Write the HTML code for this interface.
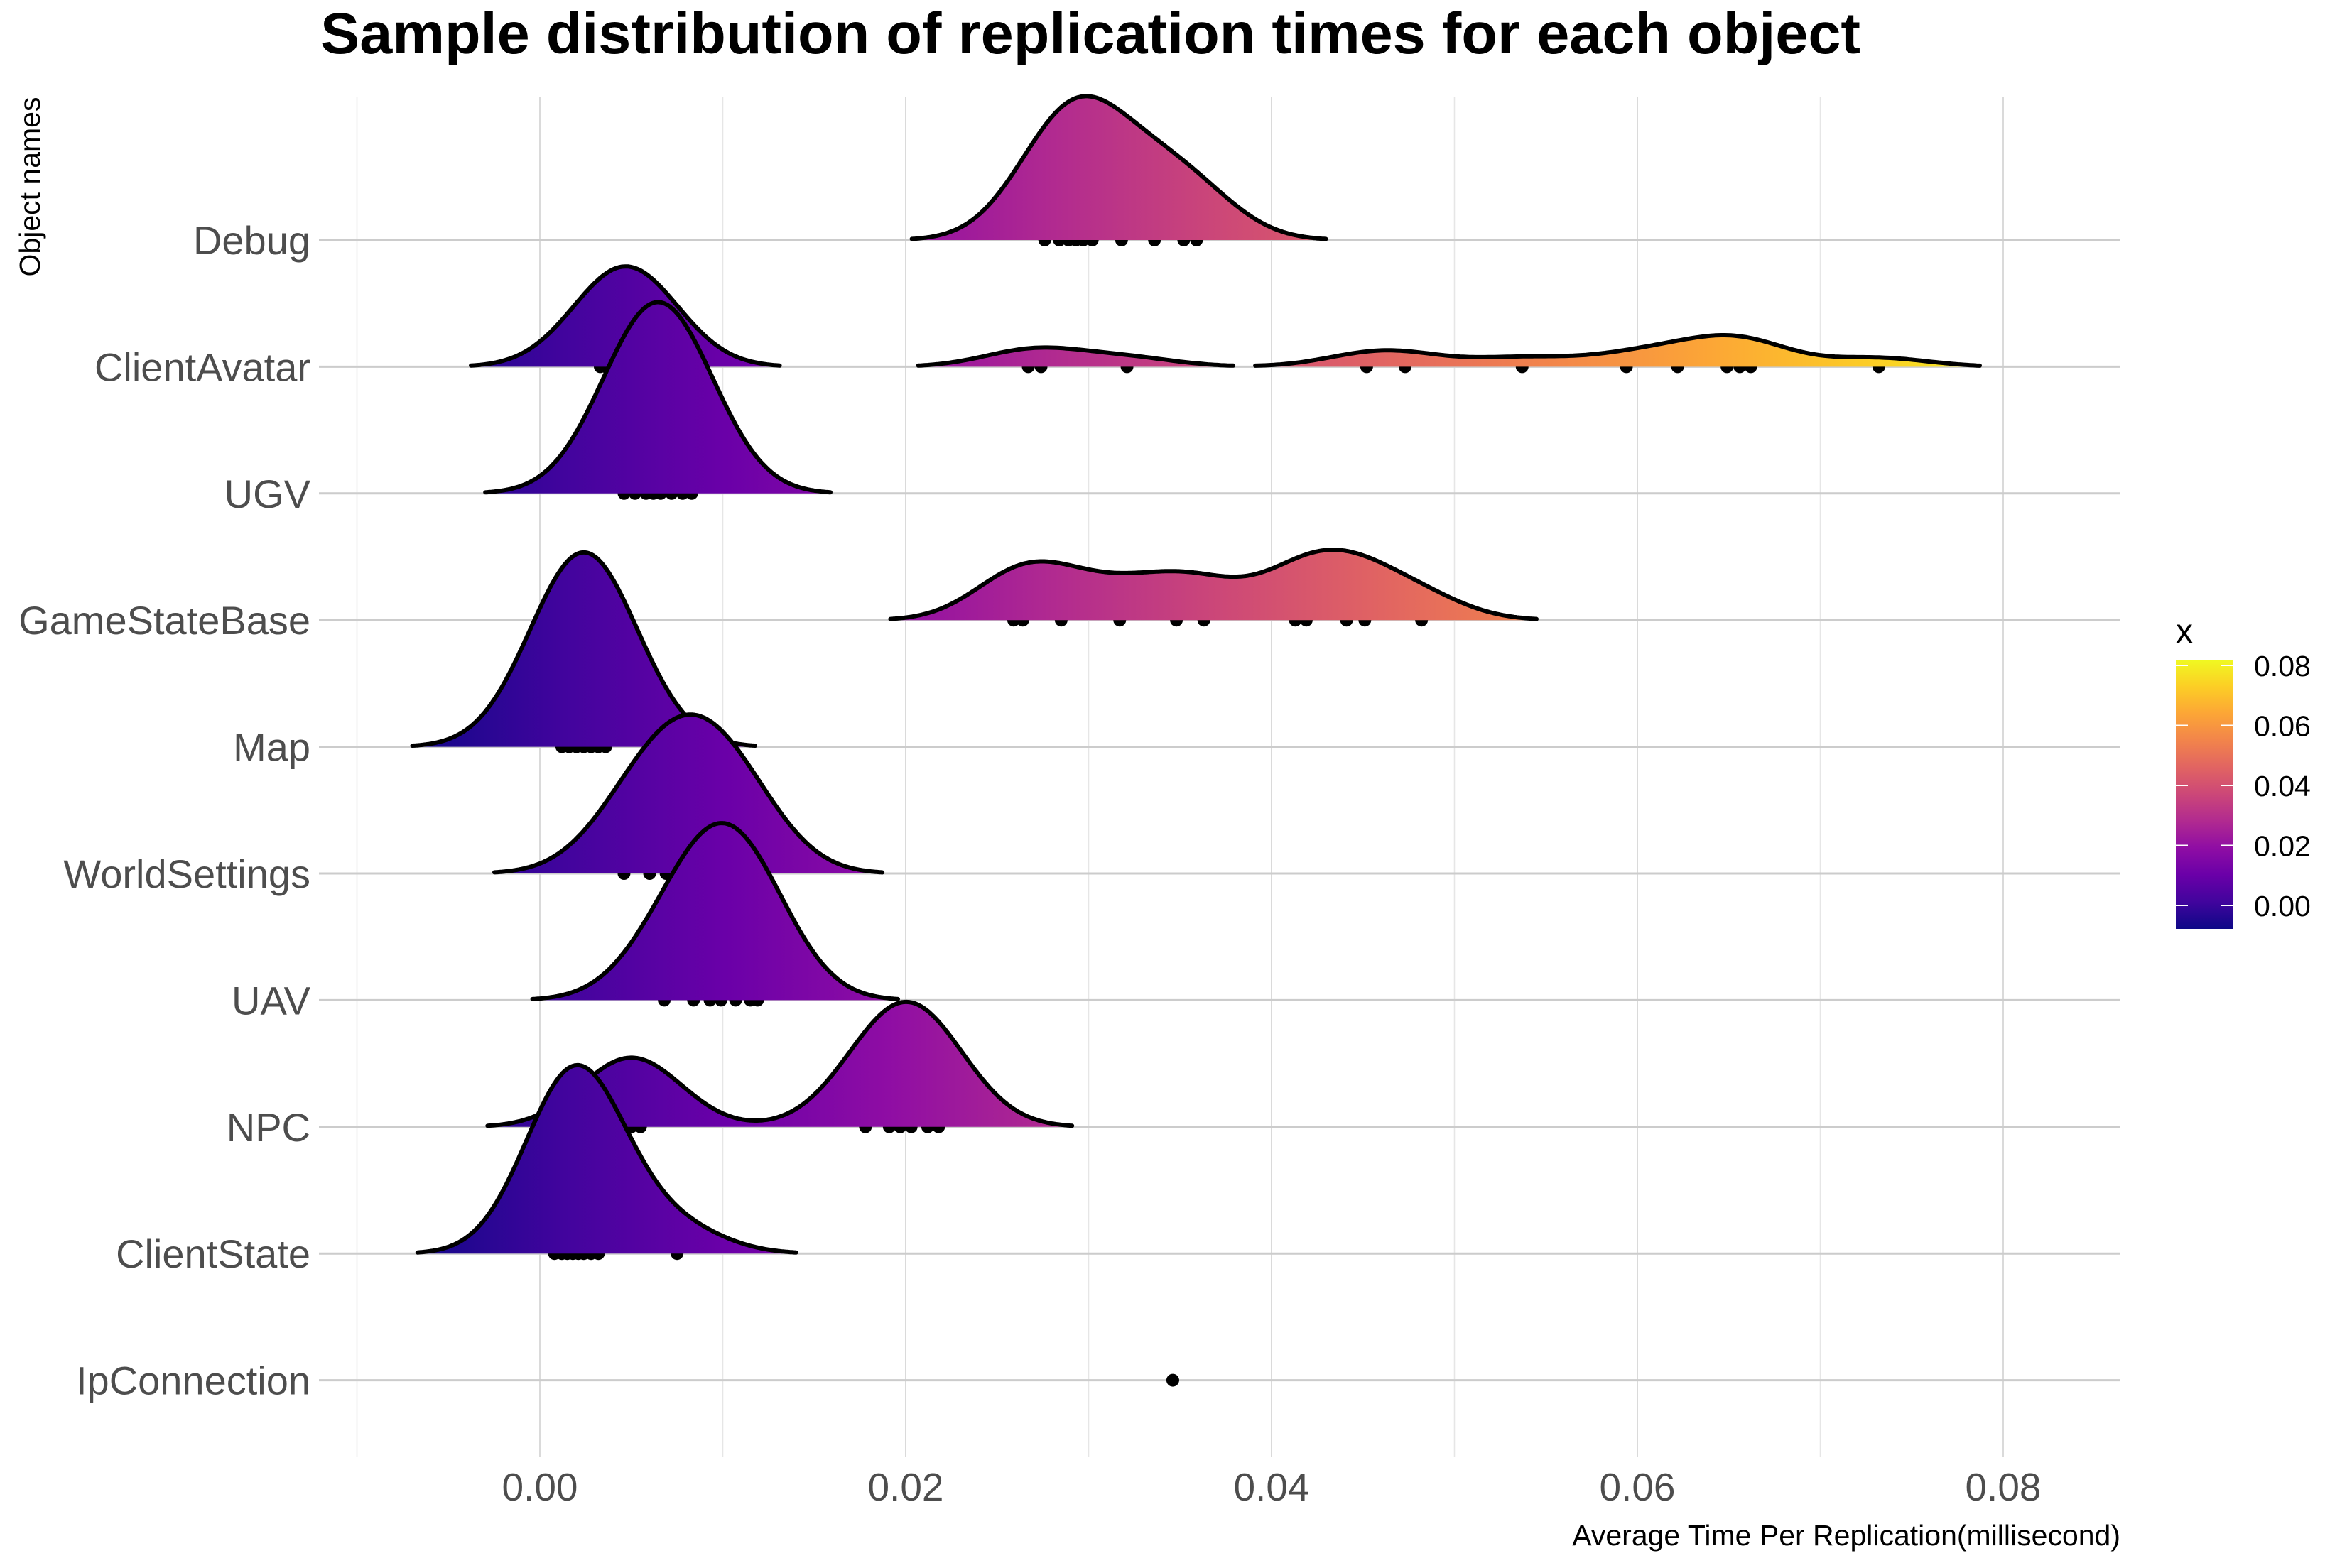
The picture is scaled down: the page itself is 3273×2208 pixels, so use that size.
<!DOCTYPE html>
<html><head><meta charset="utf-8"><style>
html,body{margin:0;padding:0;background:#fff;}
svg{display:block;font-family:"Liberation Sans",Arial,sans-serif;}
</style></head><body>
<svg id="chart" width="3273" height="2208" viewBox="0 0 3273 2208" xmlns="http://www.w3.org/2000/svg">
<defs>
<linearGradient id="plasmaX" gradientUnits="userSpaceOnUse" x1="559" y1="0" x2="2869" y2="0">
<stop offset="0" stop-color="#0d0887"/><stop offset="0.1" stop-color="#41049d"/><stop offset="0.2" stop-color="#6a00a8"/><stop offset="0.3" stop-color="#8f0da4"/><stop offset="0.4" stop-color="#b12a90"/><stop offset="0.5" stop-color="#cc4778"/><stop offset="0.6" stop-color="#e16462"/><stop offset="0.7" stop-color="#f2844b"/><stop offset="0.8" stop-color="#fca636"/><stop offset="0.9" stop-color="#fcce25"/><stop offset="1" stop-color="#f0f921"/>
</linearGradient>
<linearGradient id="plasmaY" x1="0" y1="1" x2="0" y2="0">
<stop offset="0" stop-color="#0d0887"/><stop offset="0.1" stop-color="#41049d"/><stop offset="0.2" stop-color="#6a00a8"/><stop offset="0.3" stop-color="#8f0da4"/><stop offset="0.4" stop-color="#b12a90"/><stop offset="0.5" stop-color="#cc4778"/><stop offset="0.6" stop-color="#e16462"/><stop offset="0.7" stop-color="#f2844b"/><stop offset="0.8" stop-color="#fca636"/><stop offset="0.9" stop-color="#fcce25"/><stop offset="1" stop-color="#f0f921"/>
</linearGradient>
</defs>
<text x="451" y="75" font-size="82" font-weight="bold" fill="#000" textLength="2168" lengthAdjust="spacingAndGlyphs">Sample distribution of replication times for each object</text>
<text transform="translate(56,263) rotate(-90)" text-anchor="middle" font-size="41" fill="#000">Object names</text>
<text x="2985" y="2176" text-anchor="end" font-size="41" fill="#000">Average Time Per Replication(millisecond)</text>
<g id="grid"></g>
<g id="ylabels"></g>
<g id="xlabels"></g>
<g id="marks"></g>
<g>
<text x="3063" y="905" font-size="48" fill="#000">x</text>
<rect x="3063" y="929" width="81" height="379" fill="url(#plasmaY)"/>
<g id="legendticks"></g>
</g>
</svg>
<script>
const categories = ["Debug","ClientAvatar","UGV","GameStateBase","Map","WorldSettings","UAV","NPC","ClientState","IpConnection"];
const debugPts = [0.0276,0.0284,0.0289,0.0293,0.0297,0.0302,0.0318,0.0336,0.0352,0.0359];
const clientAvatarPts = [0.0033,0.0036,0.0039,0.0042,0.0044,0.0046,0.0048,0.0050,0.0052,0.0055,0.0058,0.0060,0.0267,0.0274,0.0321,0.0452,0.0473,0.0537,0.0594,0.0622,0.0649,0.0656,0.0662,0.0732];
const ugvPts = [0.0046,0.0052,0.0058,0.0062,0.0066,0.0072,0.0078,0.0083];
const gameStateBasePts = [0.0259,0.0264,0.0285,0.0317,0.0348,0.0363,0.0413,0.0419,0.0441,0.0451,0.0482];
const mapPts = [0.0012,0.0016,0.0020,0.0024,0.0028,0.0032,0.0036];
const worldSettingsPts = [0.0046,0.0060,0.0069,0.0078,0.0086,0.0095,0.0105,0.0115];
const uavPts = [0.0068,0.0084,0.0093,0.0099,0.0107,0.0115,0.0119];
const npcPts = [0.0045,0.0050,0.0055,0.0178,0.0191,0.0197,0.0203,0.0212,0.0218];
const clientStatePts = [0.0008,0.0012,0.0015,0.0018,0.0021,0.0024,0.0028,0.0032,0.0075];
const ipConnectionPts = [0.0346];
const bandwidths = [0.0027,0.0027,0.0027,0.0026,0.0028,0.0027,0.0027,0.0027,0.0026,0];
const xTicks = [0.00,0.02,0.04,0.06,0.08];
const xTickLabels = ["0.00","0.02","0.04","0.06","0.08"];
const xMinor = [-0.01,0.01,0.03,0.05,0.07];
const legendTicks = [0.00,0.02,0.04,0.06,0.08];
const legendTickLabels = ["0.00","0.02","0.04","0.06","0.08"];

const allPts = [debugPts,clientAvatarPts,ugvPts,gameStateBasePts,mapPts,worldSettingsPts,uavPts,npcPts,clientStatePts,ipConnectionPts];
const NS = "http://www.w3.org/2000/svg";
const PL = 449, PR = 2985, PT = 136, PB = 2052;
const xs = v => 760 + v * 25750;
const ys = i => 338 + i * 178.4;
const legY = v => 1275 - v / 0.02 * 84.5;
const K = 2.0;
function mk(tag, attrs, parent){ const e = document.createElementNS(NS, tag); for (const k in attrs) e.setAttribute(k, attrs[k]); parent.appendChild(e); return e; }

const grid = document.getElementById('grid');
xMinor.forEach(v => {
  const l = mk('line', {x1:xs(v), x2:xs(v), y1:PT, y2:PB, stroke:'#e6e6e6', 'stroke-width':1.5}, grid);
  
  
});
xTicks.forEach(v => {
  const l = mk('line', {x1:xs(v), x2:xs(v), y1:PT, y2:PB, stroke:'#dadada', 'stroke-width':2}, grid);
  
  
});
categories.forEach((c, i) => {
  const l = mk('line', {x1:PL, x2:PR, y1:ys(i), y2:ys(i), stroke:'#cccccc', 'stroke-width':3}, grid);
  
  
});
const yl = document.getElementById('ylabels');
categories.forEach((c, i) => {
  const t = mk('text', {x:437, y:ys(i)+20, 'text-anchor':'end', 'font-size':56, fill:'#4d4d4d'}, yl);
  t.textContent = c;
  
  
});
const xl = document.getElementById('xlabels');
xTicks.forEach((v, i) => {
  const t = mk('text', {x:xs(v), y:2113, 'text-anchor':'middle', 'font-size':55, fill:'#4d4d4d'}, xl);
  t.textContent = xTickLabels[i];
  
  
});
const lt = document.getElementById('legendticks');
legendTicks.forEach((v, i) => {
  const y = legY(v);
  const a = mk('line', {x1:3063, x2:3080, y1:y, y2:y, stroke:'#fff', 'stroke-width':2}, lt);
  
  
  const b = mk('line', {x1:3127, x2:3144, y1:y, y2:y, stroke:'#fff', 'stroke-width':2}, lt);
  
  
  const t = mk('text', {x:3173, y:y+15, 'font-size':41, fill:'#000'}, lt);
  t.textContent = legendTickLabels[i];
  
  
});

const marks = document.getElementById('marks');
const TH = 1.5;
categories.forEach((c, i) => {
  const pts = allPts[i], bw = bandwidths[i], base = ys(i);
  const g = mk('g', {}, marks);
  
  
  pts.forEach(p => {
    const d = mk('circle', {cx:xs(p), cy:base, r:9, fill:'#000'}, g);
    
    
  });
  if (pts.length < 2 || !bw) return;
  const lo = Math.min(...pts) - 3*bw, hi = Math.max(...pts) + 3*bw, N = 500;
  const samples = [];
  for (let j = 0; j <= N; j++) {
    const x = lo + (hi - lo) * j / N;
    let s = 0;
    pts.forEach(p => { const z = (x - p) / bw; s += Math.exp(-0.5*z*z); });
    const dens = s / (pts.length * bw * Math.sqrt(2*Math.PI));
    samples.push([x, dens * K]);
  }
  let seg = [];
  const segs = [];
  samples.forEach(s => { if (s[1] >= TH) seg.push(s); else if (seg.length) { segs.push(seg); seg = []; } });
  if (seg.length) segs.push(seg);
  segs.forEach(sg => {
    const line = sg.map(s => xs(s[0]).toFixed(1) + ',' + (base - s[1]).toFixed(1)).join(' L');
    const area = 'M' + xs(sg[0][0]).toFixed(1) + ',' + base + ' L' + line + ' L' + xs(sg[sg.length-1][0]).toFixed(1) + ',' + base + ' Z';
    const a = mk('path', {d:area, fill:'url(#plasmaX)', stroke:'none'}, g);
    
    
    const l = mk('path', {d:'M' + line, fill:'none', stroke:'#000', 'stroke-width':6, 'stroke-linejoin':'round', 'stroke-linecap':'round'}, g);
    
    
  });
});
</script>
</body></html>
